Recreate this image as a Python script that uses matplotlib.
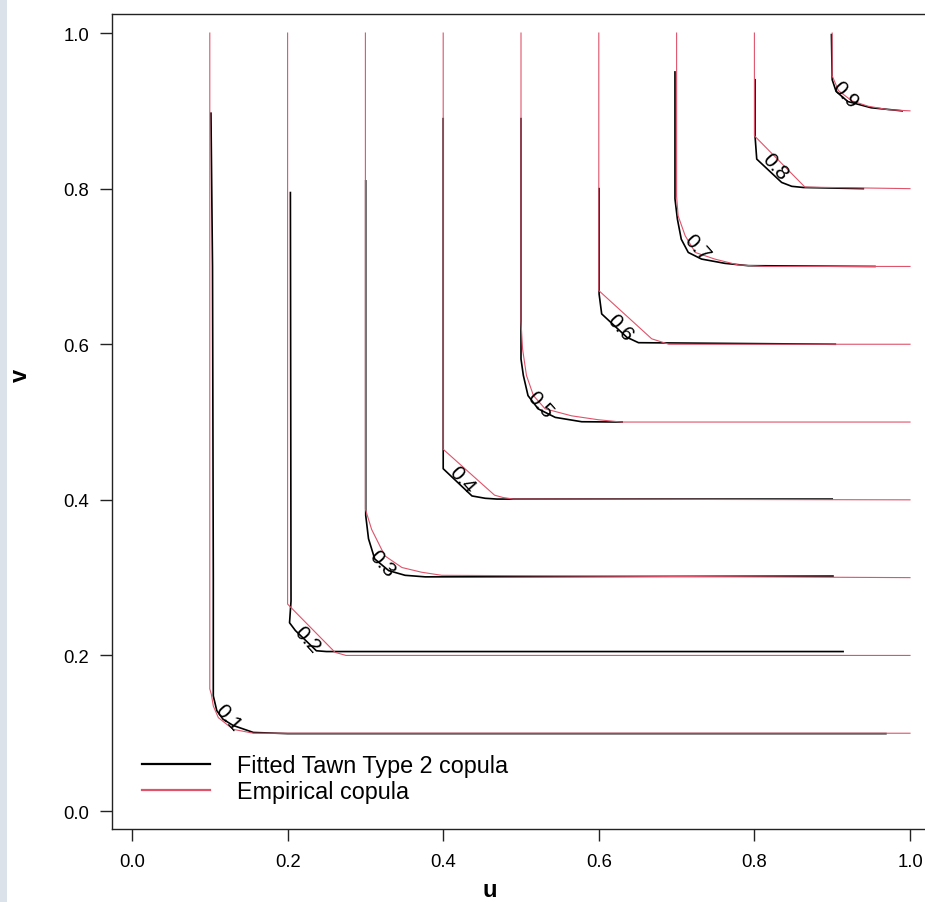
import matplotlib.pyplot as plt
from matplotlib.lines import Line2D
from matplotlib.patches import Rectangle

plt.rcParams['font.family'] = ['Liberation Sans', 'DejaVu Sans']

levels = [0.1, 0.2, 0.3, 0.4, 0.5, 0.6, 0.7, 0.8, 0.9]
level_text = ["0.1", "0.2", "0.3", "0.4", "0.5", "0.6", "0.7", "0.8", "0.9"]

# fitted Tawn type 2 contours (black)
fitted_u = [
    [0.1015, 0.1035, 0.1045, 0.1045, 0.109, 0.117, 0.130, 0.156, 0.20, 0.969],
    [0.2036, 0.2044, 0.2025, 0.21, 0.237, 0.25, 0.914],
    [0.3004, 0.3004, 0.304, 0.312, 0.33, 0.351, 0.377, 0.901],
    [0.4, 0.4, 0.437, 0.454, 0.469, 0.90],
    [0.5, 0.5, 0.503, 0.509, 0.522, 0.544, 0.578, 0.63],
    [0.6004, 0.6004, 0.6037, 0.636, 0.651, 0.904],
    [0.6979, 0.6979, 0.701, 0.706, 0.715, 0.732, 0.762, 0.792, 0.955],
    [0.8008, 0.8008, 0.803, 0.835, 0.848, 0.863, 0.94],
    [0.899, 0.9, 0.905, 0.92, 0.95, 0.99],
]
fitted_v = [
    [0.897, 0.70, 0.30, 0.148, 0.129, 0.118, 0.110, 0.101, 0.0995, 0.0995],
    [0.795, 0.27, 0.242, 0.232, 0.206, 0.205, 0.205],
    [0.81, 0.38, 0.35, 0.324, 0.309, 0.303, 0.301, 0.302],
    [0.89, 0.44, 0.405, 0.402, 0.401, 0.401],
    [0.89, 0.581, 0.56, 0.534, 0.517, 0.506, 0.5004, 0.5],
    [0.80, 0.6645, 0.639, 0.609, 0.602, 0.6],
    [0.95, 0.787, 0.761, 0.735, 0.718, 0.7095, 0.704, 0.701, 0.7],
    [0.94, 0.868, 0.838, 0.808, 0.803, 0.8015, 0.8],
    [0.998, 0.94, 0.925, 0.912, 0.904, 0.9],
]

# empirical copula contours (red)
emp_u = [
    [0.1, 0.1, 0.102, 0.1045, 0.111, 0.130, 0.156, 1.0],
    [0.2, 0.2, 0.261, 0.275, 1.0],
    [0.3, 0.3, 0.308, 0.325, 0.347, 0.372, 0.398, 1.0],
    [0.4, 0.4, 0.466, 0.477, 0.49, 1.0],
    [0.5, 0.5, 0.502, 0.507, 0.516, 0.531, 0.565, 0.599, 0.629, 1.0],
    [0.6, 0.6, 0.668, 0.69, 1.0],
    [0.7, 0.7, 0.702, 0.711, 0.724, 0.749, 0.779, 0.814, 1.0],
    [0.8, 0.8, 0.865, 1.0],
    [0.9, 0.9, 0.908, 0.925, 0.946, 0.972, 1.0],
]
emp_v = [
    [1.0, 0.157, 0.150, 0.135, 0.120, 0.105, 0.1, 0.1],
    [1.0, 0.266, 0.204, 0.2, 0.2],
    [1.0, 0.388, 0.362, 0.328, 0.313, 0.307, 0.303, 0.3],
    [1.0, 0.465, 0.406, 0.403, 0.401, 0.4],
    [1.0, 0.63, 0.594, 0.56, 0.534, 0.517, 0.508, 0.503, 0.5, 0.5],
    [1.0, 0.669, 0.607, 0.6, 0.6],
    [1.0, 0.79, 0.765, 0.7395, 0.718, 0.7095, 0.702, 0.7, 0.7],
    [1.0, 0.868, 0.802, 0.8],
    [1.0, 0.945, 0.926, 0.913, 0.906, 0.9015, 0.9],
]

label_u = [0.1234, 0.2249, 0.321, 0.4242, 0.5244, 0.627, 0.7262, 0.8265, 0.9165]
label_v = [0.1208, 0.2211, 0.3188, 0.4267, 0.5231, 0.6221, 0.7249, 0.829, 0.9216]

ticks = [0.0, 0.2, 0.4, 0.6, 0.8, 1.0]
tick_labels = ["0.0", "0.2", "0.4", "0.6", "0.8", "1.0"]

red = "#DF536B"

fig = plt.figure(figsize=(9.25, 9.03), dpi=100)
fig.patches.append(Rectangle((0, 0), 7 / 925, 1, transform=fig.transFigure,
                             facecolor="#dbe2ea", edgecolor="none", zorder=-5))
ax = fig.add_axes([112 / 925, 73 / 903, 818 / 925, 815 / 903])

for i in range(len(levels)):
    ax.plot(fitted_u[i], fitted_v[i], color="black", lw=1.2, zorder=2)
for i in range(len(levels)):
    ax.plot(emp_u[i], emp_v[i], color=red, lw=0.8, zorder=3)
for i in range(len(levels)):
    ax.text(label_u[i], label_v[i], level_text[i], rotation=-48, rotation_mode="anchor",
            ha="center", va="center", fontsize=15, color="black", zorder=4)

ax.set_xlim(-0.0257, 1.0257)
ax.set_ylim(-0.0231, 1.0245)
ax.set_xticks(ticks)
ax.set_xticklabels(tick_labels)
ax.set_yticks(ticks)
ax.set_yticklabels(tick_labels)
ax.tick_params(direction="out", length=8.5, width=1.0, labelsize=13.3, color="#222222")
ax.tick_params(axis="x", pad=9)
ax.tick_params(axis="y", pad=8)
for s in ax.spines.values():
    s.set_linewidth(1.0)
    s.set_color("#222222")

fig.text(490 / 925, 0.5 / 903, "u", fontsize=17, fontweight="bold", ha="center", va="bottom")
fig.text(20 / 925, 1 - 375 / 903, "v", fontsize=17, fontweight="bold", rotation=90,
         ha="center", va="center")

handles = [Line2D([], [], color="black", lw=1.6), Line2D([], [], color=red, lw=1.6)]
ax.legend(handles, ["Fitted Tawn Type 2 copula", "Empirical copula"], loc="upper left",
          bbox_to_anchor=(30 / 818, 75 / 815), frameon=False, fontsize=16.8,
          borderpad=0, borderaxespad=0, handlelength=2.92, handletextpad=1.16,
          labelspacing=0.12)

fig.savefig("out.png", dpi=100)
